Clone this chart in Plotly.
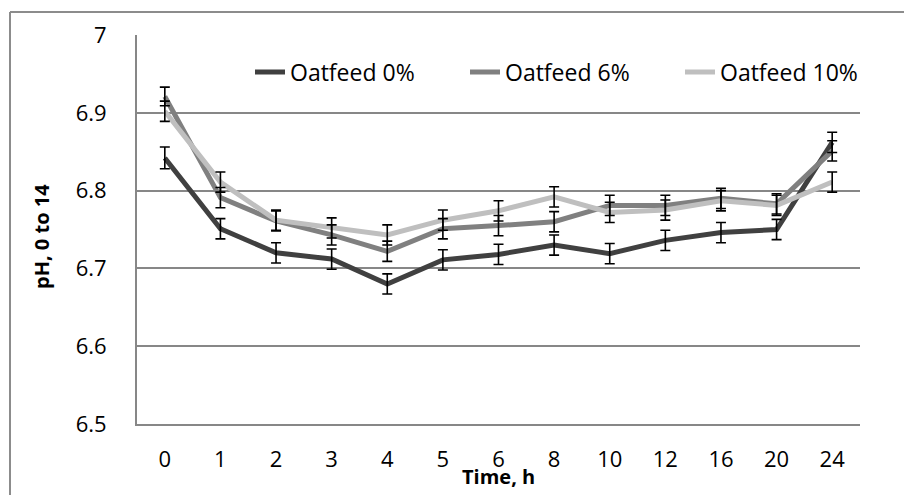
import plotly.graph_objects as go

hours = ["0", "1", "2", "3", "4", "5", "6", "8", "10", "12", "16", "20", "24"]
oat0 = [6.842, 6.751, 6.720, 6.712, 6.680, 6.711, 6.718, 6.730, 6.719, 6.736, 6.746, 6.750, 6.862]
oat6 = [6.921, 6.791, 6.761, 6.743, 6.722, 6.751, 6.755, 6.760, 6.781, 6.781, 6.790, 6.783, 6.851]
oat10 = [6.902, 6.811, 6.762, 6.752, 6.743, 6.762, 6.774, 6.792, 6.772, 6.775, 6.787, 6.781, 6.811]
err0 = [0.014, 0.013, 0.013, 0.013, 0.013, 0.013, 0.013, 0.013, 0.013, 0.013, 0.013, 0.013, 0.013]
err6 = [0.012, 0.013, 0.013, 0.013, 0.013, 0.013, 0.013, 0.013, 0.013, 0.013, 0.013, 0.013, 0.013]
err10 = [0.013, 0.013, 0.013, 0.013, 0.013, 0.013, 0.013, 0.013, 0.013, 0.013, 0.013, 0.013, 0.013]
names = ["Oatfeed 0%", "Oatfeed 6%", "Oatfeed 10%"]
colors = ["#404040", "#808080", "#bfbfbf"]

FONT = "Open Sans, Lato, sans-serif"
GRID = "#878787"

fig = go.Figure()
for name, vals, col in zip(names, [oat0, oat6, oat10], colors):
    fig.add_trace(go.Scatter(x=hours, y=vals, mode="lines", name=name,
                             line=dict(color=col, width=5)))
for vals, errs in zip([oat0, oat6, oat10], [err0, err6, err10]):
    fig.add_trace(go.Scatter(x=hours, y=vals, mode="markers", showlegend=False,
                             hoverinfo="skip",
                             marker=dict(size=1, opacity=0),
                             error_y=dict(type="data", array=errs, visible=True,
                                          color="black", thickness=1.6, width=5)))

# the page body has an 8px margin; all window-pixel positions below are shifted by it
OFF = 8
W, H = 912 - OFF, 495 - OFF
PL, PR, PT, PB = 137, 860, 35, 424  # plot area in window pixels
L, R, T, B = PL - OFF, W - (PR - OFF), PT - OFF, H - (PB - OFF)
pw, ph = W - L - R, H - T - B

def px(x):
    return (x - OFF - L) / pw

def py(y):
    return ((PB - OFF) - (y - OFF)) / ph

fig.update_layout(
    width=W, height=H,
    margin=dict(l=L, r=R, t=T, b=B),
    paper_bgcolor="white", plot_bgcolor="white",
    font=dict(family=FONT, color="black", size=22),
    showlegend=True,
    legend=dict(orientation="h", x=px(250), y=py(72), xanchor="left", yanchor="middle",
                font=dict(size=23, family=FONT), entrywidth=170, entrywidthmode="pixels",
                bgcolor="rgba(0,0,0,0)", traceorder="normal"),
    xaxis=dict(type="category", range=[-0.5, 12.5], showgrid=False, showline=True,
               linecolor=GRID, linewidth=2, ticks="", ticklabelstandoff=15,
               tickfont=dict(size=22), zeroline=False),
    yaxis=dict(range=[6.5, 7.0], dtick=0.1, tick0=6.5, showgrid=True, gridcolor=GRID,
               gridwidth=1.6, showline=True, linecolor=GRID, linewidth=2, ticks="",
               ticklabelstandoff=24, tickfont=dict(size=22), zeroline=False),
    annotations=[
        dict(text="<b>Time, h</b>", xref="paper", yref="paper", x=px(498), y=py(476),
             xanchor="center", yanchor="middle", showarrow=False,
             font=dict(size=20, family=FONT)),
        dict(text="<b>pH, 0 to 14</b>", xref="paper", yref="paper", x=px(41), y=py(237),
             xanchor="center", yanchor="middle", showarrow=False, textangle=-90,
             font=dict(size=20, family=FONT)),
    ],
    shapes=[
        dict(type="line", xref="paper", yref="paper", x0=px(10), x1=px(912), y0=py(12), y1=py(12),
             line=dict(color="#8c8c8c", width=2)),
        dict(type="line", xref="paper", yref="paper", x0=px(10), x1=px(10), y0=py(12), y1=py(495),
             line=dict(color="#8c8c8c", width=2)),
    ],
)

fig.write_html("out.html")
